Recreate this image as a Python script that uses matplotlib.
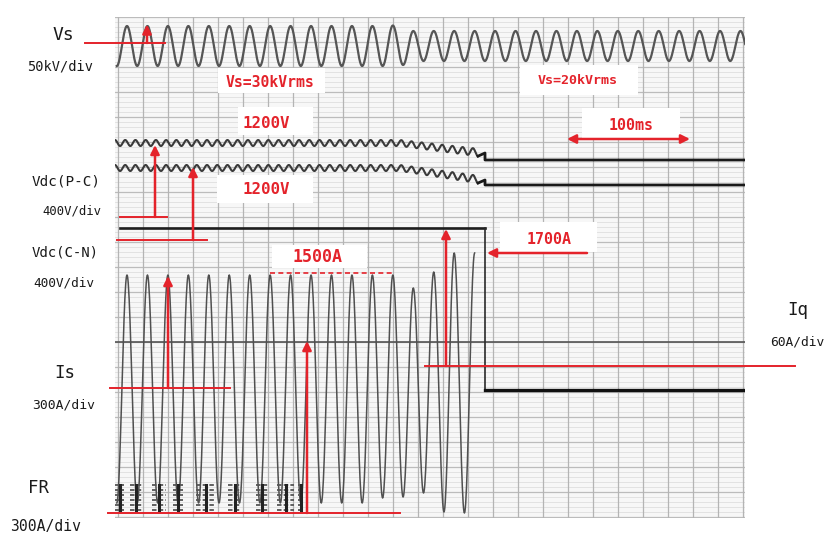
import numpy as np
import matplotlib
matplotlib.use("Agg")
import matplotlib.pyplot as plt
from matplotlib.patches import Rectangle

# ---------------- data (time in ms, amplitude in chart divisions) ----------------
T_MIN, T_MAX = -2.0, 502.0
Y_MIN, Y_MAX = -0.04, 20.0
CYCLE_MS = 16.36            # line period
FIRST_PEAK_MS = 7.6         # time of first Vs / Is peak
TRIP_MS = 294.0             # converter trip instant

# Vs trace
VS_ZERO = 18.84
VS_PEAKS = [0.80, 0.80, 0.80, 0.80, 0.80, 0.80, 0.80, 0.80, 0.80, 0.80, 0.80,
            0.80, 0.80, 0.82, 0.60, 0.60, 0.60, 0.60, 0.60, 0.60, 0.60, 0.60,
            0.60, 0.60, 0.60, 0.60, 0.60, 0.60, 0.60, 0.60, 0.60]
VS_TROUGHS = [0.80, 0.80, 0.80, 0.80, 0.80, 0.80, 0.80, 0.80, 0.80, 0.80, 0.80,
              0.80, 0.80, 0.76, 0.60, 0.60, 0.60, 0.60, 0.60, 0.60, 0.60, 0.60,
              0.60, 0.60, 0.60, 0.60, 0.60, 0.60, 0.60, 0.60, 0.60]

# Vdc traces: mean level and ripple amplitude at key times
VDC_T = [-2.0, 226.0, 292.0, 294.0, 502.0]
VDC_PC_LEVEL = [14.96, 14.96, 14.56, 14.28, 14.28]
VDC_CN_LEVEL = [13.96, 13.96, 13.48, 13.28, 13.28]
VDC_RIPPLE = [0.12, 0.12, 0.15, 0.0, 0.0]

# Iq trace
IQ_T = [2.0, 294.0, 294.0, 502.0]
IQ_V = [11.56, 11.56, 5.08, 5.08]

# reference line
REF_LINE = 7.0

# Is trace (peak / trough magnitude per cycle around zero)
IS_ZERO = 5.16
IS_PEAKS = [4.52, 4.52, 4.52, 4.52, 4.52, 4.52, 4.52, 4.52, 4.52, 4.52, 4.52,
            4.52, 4.52, 4.52, 4.00, 4.64, 5.40, 5.40]
IS_TROUGHS = [4.60, 4.60, 4.60, 4.60, 4.60, 4.60, 4.60, 4.60, 4.60, 4.60, 4.60,
              4.60, 4.40, 4.36, 4.20, 4.96, 5.00]
IS_FIRST_TROUGH = 4.60

# FR firing bursts (start, end) in ms
FR_BURSTS = [(-2.0, 5.2), (10.0, 19.6), (27.6, 38.8), (44.4, 52.4), (62.8, 78.8),
             (88.4, 98.8), (110.8, 120.4), (127.6, 141.2), (144.4, 149.2)]
FR_ROWS = [1.30, 1.10, 0.90, 0.70, 0.50, 0.30]

# ---------------- helpers ----------------
RED = '#e4232b'
W, H = 824, 535


def halfcos(t_ext, v_ext, n=24):
    ts, vs = [], []
    for i in range(len(t_ext) - 1):
        s = np.linspace(0, 1, n, endpoint=False)
        ts.append(t_ext[i] + (t_ext[i + 1] - t_ext[i]) * s)
        vs.append(v_ext[i] + (v_ext[i + 1] - v_ext[i]) * (1 - np.cos(np.pi * s)) / 2)
    ts.append([t_ext[-1]])
    vs.append([v_ext[-1]])
    return np.concatenate(ts), np.concatenate(vs)


def fpx(x, y):
    return x / W, 1 - y / H


fig = plt.figure(figsize=(W / 100, H / 100), dpi=100)
fig.patch.set_facecolor('white')
ax = fig.add_axes([115 / W, (H - 518) / H, 630 / W, 501 / H])
ax.set_xlim(T_MIN, T_MAX)
ax.set_ylim(Y_MIN, Y_MAX)
ax.set_facecolor('#f7f7f7')
for s in ax.spines.values():
    s.set_visible(False)
ax.set_xticks([])
ax.set_yticks([])

# chart paper grid
for yv in np.arange(0, 20.01, 0.2):
    ax.axhline(yv, color='#dcdcdc', lw=0.55, zorder=0)
for yv in np.arange(0, 20.01, 1.0):
    ax.axhline(yv, color='#bcbcbc', lw=0.9, zorder=0.5)
for tv in np.arange(0, 501, 20):
    ax.axvline(tv, color='#b4b4b4', lw=0.9, zorder=0.5)

# Vs
pk_t = [FIRST_PEAK_MS + k * CYCLE_MS for k in range(len(VS_PEAKS))]
ext_t = [FIRST_PEAK_MS - CYCLE_MS / 2]
ext_v = [VS_ZERO - VS_TROUGHS[0]]
for k, tp in enumerate(pk_t):
    ext_t += [tp, tp + CYCLE_MS / 2]
    ext_v += [VS_ZERO + VS_PEAKS[k], VS_ZERO - VS_TROUGHS[k]]
t, v = halfcos(ext_t, ext_v)
ax.plot(t, v, color='#555555', lw=1.6, zorder=3)

# Vdc traces
for level in (VDC_PC_LEVEL, VDC_CN_LEVEL):
    et, ev = [], []
    j = 0
    tj = T_MIN
    while tj <= VDC_T[2]:
        lv = np.interp(tj, VDC_T, level)
        rp = np.interp(tj, VDC_T, VDC_RIPPLE)
        et.append(tj)
        ev.append(lv + (rp if j % 2 == 0 else -rp))
        j += 1
        tj = T_MIN + j * CYCLE_MS / 4
    t, v = halfcos(et, ev, n=10)
    ax.plot(t, v, color='#3a3a3a', lw=1.5, zorder=3)
    ax.plot([et[-1], VDC_T[3], VDC_T[3], VDC_T[4]],
            [ev[-1], level[2], level[3], level[4]], color='#1a1a1a', lw=2.0, zorder=3)

# Iq and reference line
ax.plot(IQ_T[:2], IQ_V[:2], color='#1e1e1e', lw=1.9, zorder=3)
ax.plot(IQ_T[1:3], IQ_V[1:3], color='#2a2a2a', lw=1.2, zorder=3)
ax.plot(IQ_T[2:], IQ_V[2:], color='#111111', lw=2.4, zorder=3)
ax.axhline(REF_LINE, color='#555555', lw=1.2, zorder=2)

# Is
pk_t = [FIRST_PEAK_MS + k * CYCLE_MS for k in range(len(IS_PEAKS))]
ext_t = [FIRST_PEAK_MS - CYCLE_MS / 2]
ext_v = [IS_ZERO - IS_FIRST_TROUGH]
for k, tp in enumerate(pk_t):
    ext_t.append(tp)
    ext_v.append(IS_ZERO + IS_PEAKS[k])
    if k < len(IS_TROUGHS):
        ext_t.append(tp + CYCLE_MS / 2)
        ext_v.append(IS_ZERO - IS_TROUGHS[k])
t, v = halfcos(ext_t, ext_v)
keep = t <= TRIP_MS - 1
ax.plot(t[keep], v[keep], color='#505050', lw=1.1, zorder=3)

# FR bursts
for (a, b) in FR_BURSTS:
    for r in FR_ROWS:
        ax.plot([a, b], [r, r], color='#555555', lw=1.3, zorder=3,
                dashes=(2.5, 1.2))
    ax.plot([(a + b) / 2, (a + b) / 2], [FR_ROWS[-1], FR_ROWS[0]],
            color='#222222', lw=2.2, zorder=3)


def px2d(x, y):
    return (x - 117.5) * 0.8, (517 - y) / 25.0


# annotation boxes
boxes = [(218, 68, 325, 93), (238, 107, 313, 135), (217, 175, 313, 203),
         (272, 245, 367, 268), (520, 65, 638, 95), (582, 108, 680, 138),
         (500, 222, 597, 252)]
for (x0, y0, x1, y1) in boxes:
    a, b = px2d(x0, y1)
    c, d = px2d(x1, y0)
    ax.add_patch(Rectangle((a, b), c - a, d - b, facecolor='white',
                           edgecolor='none', zorder=4))

red_texts = [("Vs=30kVrms", 270, 82, 10.6), ("1200V", 266, 123, 11.3),
             ("1200V", 266, 190, 11.3), ("1500A", 318, 257, 12.0),
             ("Vs=20kVrms", 578, 81, 9.6), ("100ms", 631, 126, 10.8),
             ("1700A", 549, 239, 10.8)]
for s, x, y, fs in red_texts:
    fx, fy = fpx(x, y)
    fig.text(fx, fy, s, color=RED, fontsize=fs, family='DejaVu Sans Mono',
             fontweight='bold', ha='center', va='center', zorder=6)

# red reference lines
hlines = [(18.96, -26.0, 38.0), (12.0, 2.0, 39.6), (11.08, -0.4, 71.6),
          (5.16, -6.0, 90.0), (0.16, -7.6, 226.0), (6.04, 246.0, 542.0)]
for y, a, b in hlines:
    ax.plot([a, b], [y, y], color=RED, lw=1.4, zorder=5, clip_on=False)
ax.plot([122.0, 220.4], [9.76, 9.76], color=RED, lw=1.2, zorder=5,
        dashes=(3, 2))

arrows = [((23.6, 18.96), (23.6, 19.70)), ((30.0, 12.0), (30.0, 14.88)),
          ((60.4, 11.08), (60.4, 14.0)), ((40.4, 5.16), (40.4, 9.64)),
          ((151.6, 0.16), (151.6, 7.04)), ((262.8, 6.04), (262.8, 11.52)),
          ((375.6, 10.56), (295.6, 10.56))]
for (x0, y0), (x1, y1) in arrows:
    ax.annotate('', xy=(x1, y1), xytext=(x0, y0),
                arrowprops=dict(arrowstyle='-|>', color=RED, lw=1.8,
                                mutation_scale=13, shrinkA=0, shrinkB=0),
                zorder=6, annotation_clip=False)
ax.annotate('', xy=(458.0, 15.12), xytext=(359.6, 15.12),
            arrowprops=dict(arrowstyle='<|-|>', color=RED, lw=1.8,
                            mutation_scale=13, shrinkA=0, shrinkB=0),
            zorder=6, annotation_clip=False)

# black labels
labels = [("Vs", 63, 35, 13), ("50kV/div", 60, 67, 9.8), ("Vdc(P-C)", 66, 181, 10.3),
          ("400V/div", 72, 211, 8.8), ("Vdc(C-N)", 65, 253, 10.1),
          ("400V/div", 64, 283, 9.2), ("Is", 65, 373, 12.5),
          ("300A/div", 64, 405, 9.4), ("FR", 39, 488, 12.5),
          ("300A/div", 46, 527, 10.6), ("Iq", 798, 310, 12.5),
          ("60A/div", 797, 342, 9.3)]
for s, x, y, fs in labels:
    fx, fy = fpx(x, y)
    fig.text(fx, fy, s, color='#1a1a1a', fontsize=fs, family='DejaVu Sans Mono',
             ha='center', va='center')

fig.savefig('out.png', dpi=100)
